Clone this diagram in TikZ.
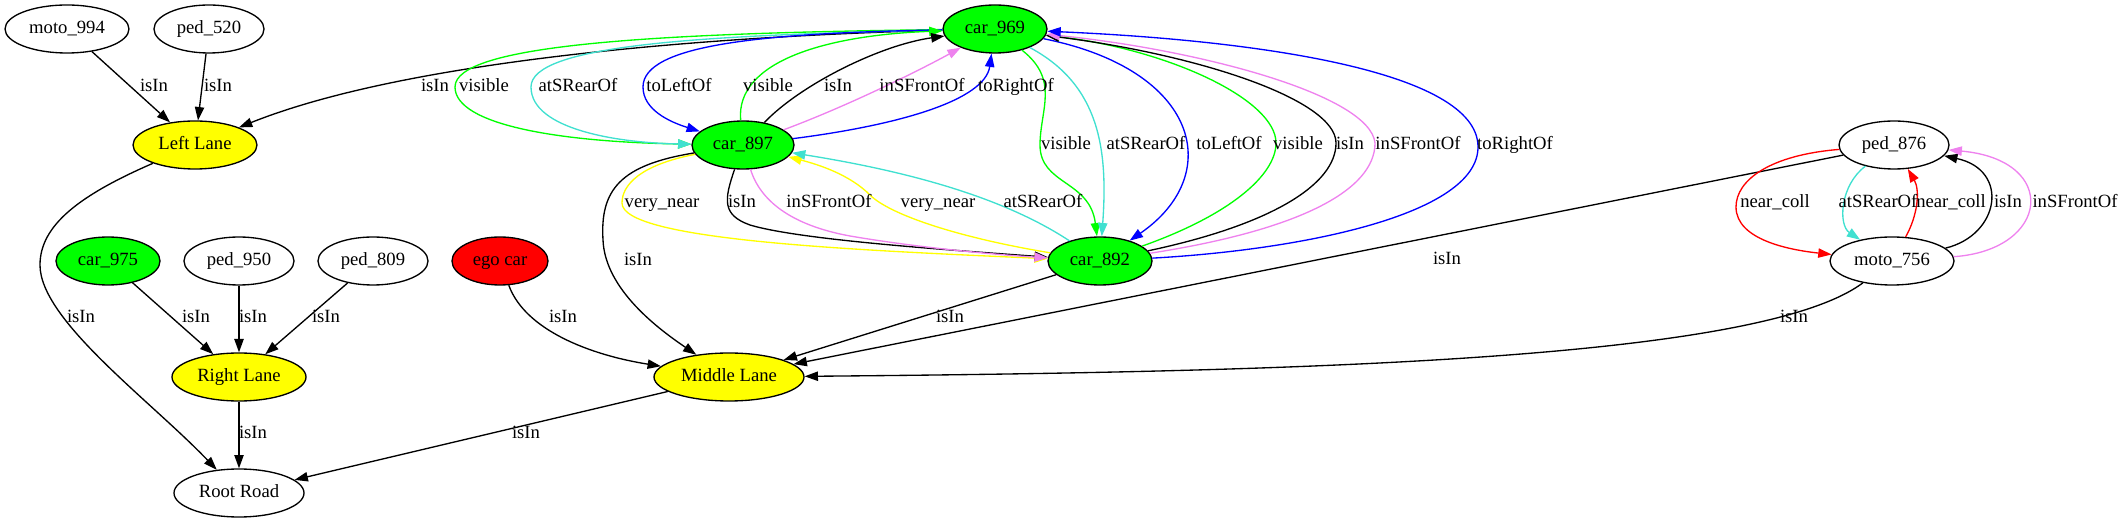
\documentclass[tikz,border=0pt]{standalone}
\usepackage{fontspec}
\setmainfont{Liberation Serif}
\usetikzlibrary{shapes.geometric,arrows.meta}
\definecolor{gvgreen}{RGB}{0,255,0}
\definecolor{gvyellow}{RGB}{255,255,0}
\definecolor{gvred}{RGB}{255,0,0}
\definecolor{gvturq}{RGB}{64,224,208}
\definecolor{gvblue}{RGB}{0,0,255}
\definecolor{gvviolet}{RGB}{238,130,238}
\begin{document}
\begin{tikzpicture}[x=0.75pt,y=-0.75pt,
  ent/.style={ellipse,draw=black,line width=1pt,inner sep=0pt,minimum height=36pt,
    font=\fontsize{14}{16}\selectfont,text height=9.5pt,text depth=3pt},
  lbl/.style={inner sep=0pt,font=\fontsize{14}{16}\selectfont,text height=9.5pt,text depth=3pt},
  arr/.style={line width=1pt,-{Triangle[length=10pt,width=7pt]}},
]
\useasboundingbox (0,0) rectangle (2122,523);
% nodes
\node[ent,minimum width=93pt] (moto994) at (67,29) {moto\_994};
\node[ent,minimum width=82.5pt] (ped520) at (209,29) {ped\_520};
\node[ent,minimum width=93pt,fill=gvyellow] (leftlane) at (195,145) {Left Lane};
\node[ent,minimum width=78pt,fill=gvgreen] (car975) at (108,261) {car\_975};
\node[ent,minimum width=82.5pt] (ped950) at (239,261) {ped\_950};
\node[ent,minimum width=82.5pt] (ped809) at (373,261) {ped\_809};
\node[ent,minimum width=72pt,fill=gvred] (ego) at (500,261) {ego car};
\node[ent,minimum width=100.5pt,fill=gvyellow] (rightlane) at (239,377) {Right Lane};
\node[ent,minimum width=97.5pt] (root) at (239,493) {Root Road};
\node[ent,minimum width=112.5pt,fill=gvyellow] (middle) at (729,377) {Middle Lane};
\node[ent,minimum width=78pt,fill=gvgreen] (car969) at (995,29) {car\_969};
\node[ent,minimum width=76.5pt,fill=gvgreen] (car897) at (743,145) {car\_897};
\node[ent,minimum width=78pt,fill=gvgreen] (car892) at (1100,261) {car\_892};
\node[ent,minimum width=82.5pt] (ped876) at (1894,145) {ped\_876};
\node[ent,minimum width=93pt] (moto756) at (1892,261) {moto\_756};
% edges to Left Lane
\draw[arr] (moto994) -- (leftlane);
\draw[arr] (ped520) -- (leftlane);
\draw[arr] (car969) .. controls (750,35) and (420,55) .. (leftlane);
% car_969 -> car_897
\draw[arr,gvgreen] (car969) .. controls (650,33) and (455,45) .. (455,87) .. controls (455,125) and (560,142) .. (car897);
\draw[arr,gvturq] (car969) .. controls (700,35) and (531,45) .. (531,87) .. controls (531,130) and (620,143) .. (car897);
\draw[arr,gvblue] (car969) .. controls (760,33) and (643,45) .. (643,87) .. controls (643,110) and (670,122) .. (car897);
% car_897 -> car_969
\draw[arr,gvgreen] (car897) .. controls (735,60) and (830,35) .. (car969);
\draw[arr] (car897) .. controls (800,85) and (880,45) .. (car969);
\draw[arr,gvviolet] (car897) .. controls (850,105) and (920,70) .. (car969);
\draw[arr,gvblue] (car897) .. controls (900,125) and (985,100) .. (car969);
% car_969 -> car_892
\draw[arr,gvgreen] (car969) .. controls (1060,80) and (1040,110) .. (1040,145) .. controls (1040,185) and (1090,180) .. (car892);
\draw[arr,gvturq] (car969) .. controls (1100,85) and (1108,150) .. (car892);
\draw[arr,gvblue] (car969) .. controls (1200,70) and (1225,175) .. (car892);
% car_892 -> car_969
\draw[arr,gvgreen] (car892) .. controls (1230,215) and (1276,175) .. (1276,143) .. controls (1276,100) and (1170,50) .. (car969);
\draw[arr] (car892) .. controls (1270,225) and (1336,185) .. (1336,143) .. controls (1336,100) and (1200,55) .. (car969);
\draw[arr,gvviolet] (car892) .. controls (1300,230) and (1375,190) .. (1375,143) .. controls (1370,95) and (1200,50) .. (car969);
\draw[arr,gvblue] (car892) .. controls (1300,250) and (1478,215) .. (1478,147) .. controls (1478,70) and (1250,40) .. (car969);
% car_897 <-> car_892
\draw[arr,gvyellow] (car897) .. controls (640,165) and (622,185) .. (622,203) .. controls (622,240) and (850,250) .. (car892);
\draw[arr] (car897) .. controls (724,200) and (722,215) .. (750,225) .. controls (800,240) and (950,250) .. (car892);
\draw[arr,gvviolet] (car897) .. controls (760,200) and (790,225) .. (850,236) .. controls (920,248) and (1000,255) .. (car892);
\draw[arr,gvyellow] (car892) .. controls (960,238) and (890,215) .. (870,195) .. controls (850,175) and (820,165) .. (car897);
\draw[arr,gvturq] (car892) .. controls (1000,195) and (900,170) .. (car897);
% to Middle Lane
\draw[arr] (car897) .. controls (620,165) and (600,190) .. (603,240) .. controls (605,290) and (660,330) .. (middle);
\draw[arr] (car892) -- (middle);
\draw[arr] (ped876) -- (middle);
\draw[arr] (moto756) .. controls (1760,360) and (1300,372) .. (middle);
\draw[arr] (ego) .. controls (525,330) and (590,355) .. (middle);
% to Right Lane
\draw[arr] (car975) -- (rightlane);
\draw[arr] (ped950) -- (rightlane);
\draw[arr] (ped809) -- (rightlane);
% to Root Road
\draw[arr] (leftlane) .. controls (80,195) and (40,225) .. (40,265) .. controls (40,320) and (150,400) .. (root);
\draw[arr] (rightlane) -- (root);
\draw[arr] (middle) -- (root);
% ped_876 <-> moto_756
\draw[arr,gvred] (ped876) .. controls (1770,155) and (1736,180) .. (1736,207) .. controls (1736,240) and (1790,250) .. (moto756);
\draw[arr,gvturq] (ped876) .. controls (1840,185) and (1838,225) .. (moto756);
\draw[arr,gvred] (moto756) .. controls (1918,215) and (1920,190) .. (ped876);
\draw[arr] (moto756) .. controls (2000,235) and (2010,170) .. (ped876);
\draw[arr,gvviolet] (moto756) .. controls (2050,250) and (2060,160) .. (ped876);
% labels
\node[lbl] (l1) at (154,87) {isIn};
\node[lbl] (l2) at (218,87) {isIn};
\node[lbl] (l3) at (435,87) {isIn};
\node[lbl] (l4) at (484,87) {visible};
\node[lbl] (l5) at (578,87) {atSRearOf};
\node[lbl] (l6) at (679,87) {toLeftOf};
\node[lbl] (l7) at (768,87) {visible};
\node[lbl] (l8) at (838,87) {isIn};
\node[lbl] (l9) at (922,87) {inSFrontOf};
\node[lbl] (l10) at (1016,87) {toRightOf};
\node[lbl] (l11) at (1066,145) {visible};
\node[lbl] (l12) at (1146,145) {atSRearOf};
\node[lbl] (l13) at (1229,145) {toLeftOf};
\node[lbl] (l14) at (1298,145) {visible};
\node[lbl] (l15) at (1350,145) {isIn};
\node[lbl] (l16) at (1418,145) {inSFrontOf};
\node[lbl] (l17) at (1515,145) {toRightOf};
\node[lbl] (l18) at (662,203) {very\_near};
\node[lbl] (l19) at (742,203) {isIn};
\node[lbl] (l20) at (829,203) {inSFrontOf};
\node[lbl] (l21) at (938,203) {very\_near};
\node[lbl] (l22) at (1043,203) {atSRearOf};
\node[lbl] (l23) at (638,261) {isIn};
\node[lbl] (l24) at (950,318) {isIn};
\node[lbl] (l25) at (1447,260) {isIn};
\node[lbl] (l26) at (1794,318) {isIn};
\node[lbl] (l27) at (563,318) {isIn};
\node[lbl] (l28) at (196,318) {isIn};
\node[lbl] (l29) at (253,318) {isIn};
\node[lbl] (l30) at (326,318) {isIn};
\node[lbl] (l31) at (81,318) {isIn};
\node[lbl] (l32) at (253,434) {isIn};
\node[lbl] (l33) at (526,434) {isIn};
\node[lbl] (l34) at (1775,203) {near\_coll};
\node[lbl] (l35) at (1878,203) {atSRearOf};
\node[lbl] (l36) at (1951,203) {near\_coll};
\node[lbl] (l37) at (2008,203) {isIn};
\node[lbl] (l38) at (2075,203) {inSFrontOf};
\end{tikzpicture}
\end{document}
